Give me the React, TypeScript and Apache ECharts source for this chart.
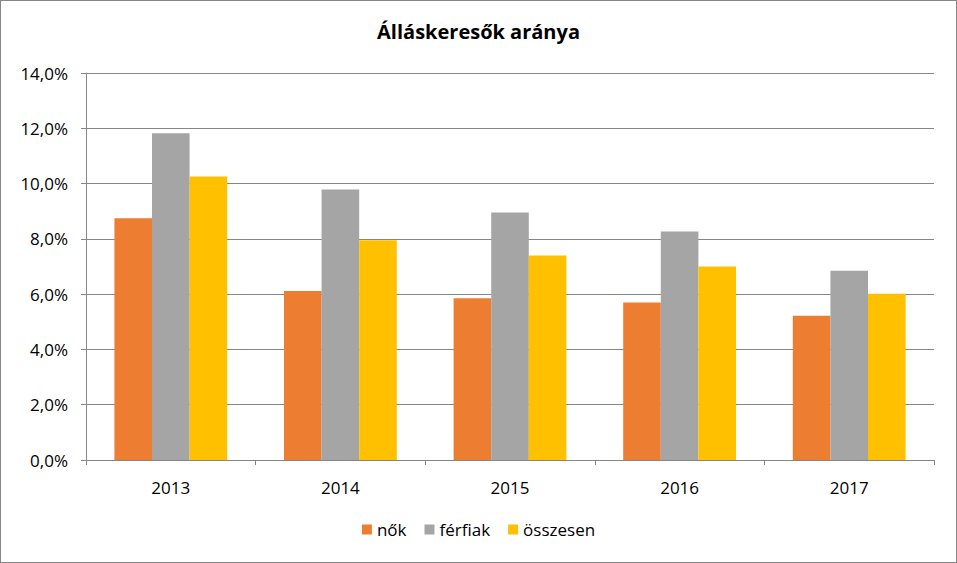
import React, { useEffect, useRef } from "react";
import * as echarts from "echarts";

const title = "Álláskeresők aránya";
const categories = ["2013", "2014", "2015", "2016", "2017"];
const seriesNames = ["nők", "férfiak", "összesen"];
const nok = [0.0875, 0.0611, 0.0585, 0.057, 0.0522];
const ferfiak = [0.1182, 0.0979, 0.0895, 0.0827, 0.0685];
const osszesen = [0.1026, 0.0795, 0.074, 0.07, 0.0601];
const colors = ["#ED7D31", "#A5A5A5", "#FFC000"];

const FONT = "'Open Sans', 'Noto Sans', sans-serif";

export default function App() {
  const ref = useRef<HTMLDivElement>(null);
  useEffect(() => {
    if (!ref.current) return;
    const chart = echarts.init(ref.current, undefined, { renderer: "svg" });
    const values = [nok, ferfiak, osszesen];
    chart.setOption({
      animation: false,
      backgroundColor: "#ffffff",
      title: {
        text: title,
        left: "center",
        top: 15,
        textStyle: { fontFamily: FONT, fontSize: 20, fontWeight: "bold", color: "#000" },
      },
      legend: {
        bottom: 19,
        left: "center",
        itemWidth: 10,
        itemHeight: 10,
        itemGap: 18,
        icon: "rect",
        textStyle: { fontFamily: FONT, fontSize: 17, color: "#000" },
        data: seriesNames,
      },
      grid: { left: 85, right: 22, top: 72, bottom: 102, containLabel: false },
      xAxis: {
        type: "category",
        data: categories,
        axisLine: { lineStyle: { color: "#868686", width: 1 } },
        axisTick: { show: true, length: 5, lineStyle: { color: "#868686" } },
        axisLabel: { fontFamily: FONT, fontSize: 17, color: "#000", margin: 19 },
      },
      yAxis: {
        type: "value",
        min: 0,
        max: 0.14,
        interval: 0.02,
        axisLine: { show: true, lineStyle: { color: "#868686", width: 1 } },
        axisTick: { show: true, length: 5, lineStyle: { color: "#868686" } },
        splitLine: { show: true, lineStyle: { color: "#868686", width: 1 } },
        axisLabel: {
          fontFamily: FONT,
          fontSize: 17,
          color: "#000",
          margin: 18,
          formatter: (v: number) => (v * 100).toFixed(1).replace(".", ",") + "%",
        },
      },
      series: seriesNames.map((name, i) => ({
        name,
        type: "bar",
        data: values[i],
        barGap: "0%",
        barCategoryGap: "33.5%",
        itemStyle: { color: colors[i] },
      })),
    });
    return () => chart.dispose();
  }, []);
  return (
    <div
      style={{
        position: "fixed",
        left: 0,
        top: 0,
        width: 957,
        height: 563,
        boxSizing: "border-box",
        border: "1px solid #868686",
        background: "#fff",
      }}
    >
      <div ref={ref} style={{ width: 955, height: 561 }} />
    </div>
  );
}
